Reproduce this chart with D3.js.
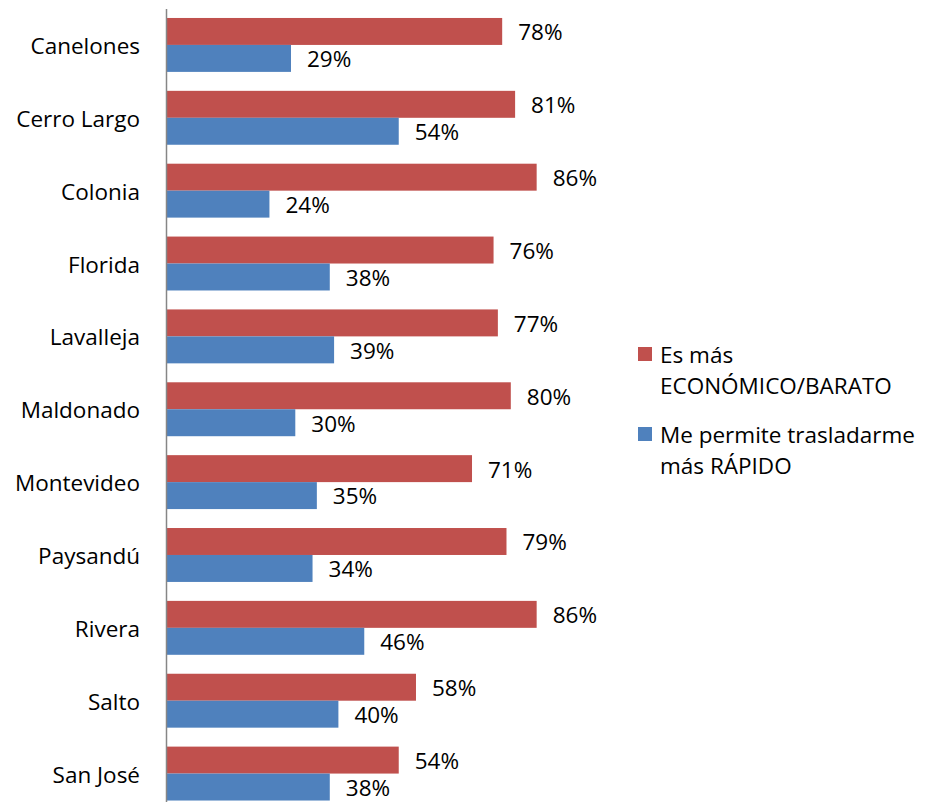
<!DOCTYPE html>
<html><head><meta charset="utf-8">
<script src="https://cdn.jsdelivr.net/npm/d3@7"></script>
<style>body{margin:0;background:#fff}text{font-family:"Open Sans",sans-serif;fill:#000}</style>
</head><body><svg id="c" width="926" height="802"></svg>
<script>
const categories = ["Canelones","Cerro Largo","Colonia","Florida","Lavalleja","Maldonado","Montevideo","Paysandú","Rivera","Salto","San José"];
const economico = [78,81,86,76,77,80,71,79,86,58,54];
const rapido = [29,54,24,38,39,30,35,34,46,40,38];
const seriesNames = [["Es más","ECONÓMICO/BARATO"],["Me permite trasladarme","más RÁPIDO"]];
const colors = ["#C0504D","#4F81BD"];

const svg = d3.select("#c");
const x = d3.scaleLinear().domain([0,100]).range([166,597]);
const y = d3.scaleBand().domain(categories).range([8.5,810]).paddingInner(0.26).paddingOuter(0.13);
const sub = d3.scaleBand().domain([0,1]).range([0,y.bandwidth()]);
const FS = 22.5;

const series = [economico, rapido];
series.forEach((vals,si)=>{
  const g = svg.append("g");
  g.selectAll("rect").data(categories).join("rect")
    .attr("x", x(0)).attr("y", d=>y(d)+sub(si))
    .attr("width", (d,i)=>x(vals[i])-x(0)).attr("height", sub.bandwidth())
    .attr("fill", colors[si]);
  g.selectAll("text").data(categories).join("text")
    .attr("x",(d,i)=>x(vals[i])+16).attr("y", d=>y(d)+sub(si)+sub.bandwidth()/2+1)
    .attr("dy","0.35em").attr("font-size",FS).text((d,i)=>vals[i]+"%");
});

const axis = svg.append("g").attr("transform",`translate(${x(0)},0)`)
  .call(d3.axisLeft(y).tickSize(0).tickPadding(26));
axis.select(".domain").attr("stroke","#868686").attr("stroke-width",1.5);
axis.selectAll("text").attr("font-size",FS).attr("font-family","'Open Sans',sans-serif").attr("fill","#000").attr("dy","0.4em");

const leg = svg.append("g");
const legY = [354, 434];
seriesNames.forEach((lines,i)=>{
  leg.append("rect").attr("x",638).attr("y",legY[i]-7).attr("width",14).attr("height",14).attr("fill",colors[i]);
  lines.forEach((t,j)=>{
    leg.append("text").attr("x",660).attr("y",legY[i]+j*31+1).attr("dy","0.36em").attr("font-size",FS).text(t);
  });
});
</script></body></html>
